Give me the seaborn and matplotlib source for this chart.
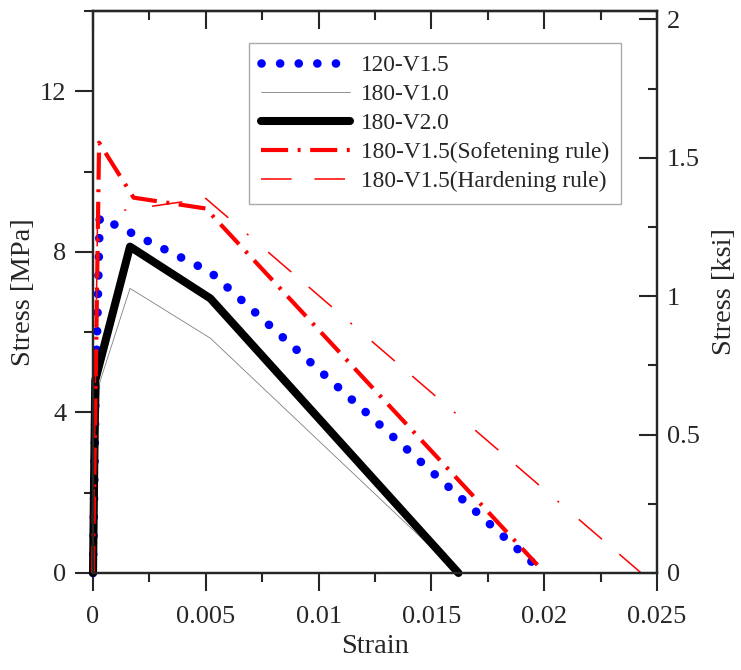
import numpy as np
import pandas as pd
import seaborn as sns
from matplotlib import pyplot as plt
from matplotlib.ticker import MultipleLocator, FormatStrFormatter

MPA_PER_KSI = 6.895

# curves (strain [-], stress [MPa])
strain_120_v15 = [0, 0.0001, 0.0003, 0.0052, 0.0195]
stress_120_v15 = [0, 4.0, 8.86, 7.5, 0.25]

strain_180_v10 = [0, 0.0003, 0.00164, 0.0052, 0.0162]
stress_180_v10 = [0, 4.75, 7.09, 5.85, 0.0]

strain_180_v20 = [0, 0.0001, 0.00164, 0.0052, 0.0162]
stress_180_v20 = [0, 4.8, 8.13, 6.84, 0.0]

strain_soft = [0, 0.00027, 0.0018, 0.0050, 0.0197]
stress_soft = [0, 10.72, 9.35, 9.08, 0.2]

strain_hard = [0, 0.0002, 0.0013, 0.0050, 0.0243]
stress_hard = [0, 8.8, 9.03, 9.33, 0.0]

labels = ['120-V1.5', '180-V1.0', '180-V2.0',
          '180-V1.5(Sofetening rule)', '180-V1.5(Hardening rule)']

sns.set_style("ticks")
plt.rcParams['font.family'] = ['Liberation Serif', 'DejaVu Serif']

fig = plt.figure(figsize=(7.41, 6.7), dpi=100)
ax = fig.add_axes([0.1255, 0.1448, 0.7611, 0.8388])

series = [
    (strain_120_v15, stress_120_v15, dict(color='blue', lw=6.2, linestyle=(0, (0.01, 2.15)),
                                           dash_capstyle='round')),
    (strain_180_v10, stress_180_v10, dict(color='#808080', lw=0.6)),
    (strain_180_v20, stress_180_v20, dict(color='black', lw=5.8, solid_capstyle='round')),
    (strain_soft, stress_soft, dict(color='red', lw=3, linestyle=(0, (6.5, 2.3, 0.7, 2.3)))),
    (strain_hard, stress_hard, dict(color='red', lw=1.1,
                                    linestyle=(0, (20, 15, 20, 16, 1.4, 17)))),
]

for (sx, sy, kw), lab in zip(series, labels):
    df = pd.DataFrame({'strain': sx, 'stress': sy})
    sns.lineplot(data=df, x='strain', y='stress', ax=ax, sort=False,
                 estimator=None, label=lab, clip_on=False, **kw)

ax.set_xlim(0, 0.025)
ax.set_ylim(0, 14)
ax.xaxis.set_major_locator(MultipleLocator(0.005))
ax.xaxis.set_minor_locator(MultipleLocator(0.0025))
ax.xaxis.set_major_formatter(FormatStrFormatter('%g'))
ax.yaxis.set_major_locator(MultipleLocator(4))
ax.yaxis.set_minor_locator(MultipleLocator(2))
ax.tick_params(which='major', direction='out', length=13, width=1.5, labelsize=19)
ax.tick_params(which='minor', direction='out', length=6.5, width=1.5)
ax.tick_params(axis='x', which='major', pad=11)
ax.tick_params(axis='y', which='major', pad=6)
ax.set_xlabel('Strain', fontsize=20.5, labelpad=4)
ax.set_ylabel('Stress [MPa]', fontsize=20.5, labelpad=3)

# top axis: inward ticks, no labels
top = ax.secondary_xaxis('top')
top.xaxis.set_major_locator(MultipleLocator(0.005))
top.xaxis.set_minor_locator(MultipleLocator(0.0025))
top.tick_params(which='major', direction='in', length=13, width=1.5, labeltop=False)
top.tick_params(which='minor', direction='in', length=6.5, width=1.5)

# right axis in ksi
ax2 = ax.twinx()
ax2.set_ylim(0, 14 / MPA_PER_KSI)
ax2.yaxis.set_major_locator(MultipleLocator(0.5))
ax2.yaxis.set_minor_locator(MultipleLocator(0.25))
ax2.yaxis.set_major_formatter(FormatStrFormatter('%g'))
ax2.tick_params(which='major', direction='in', length=13, width=1.5, labelsize=19, pad=7)
ax2.tick_params(which='minor', direction='in', length=6.5, width=1.5)
ax2.set_ylabel('Stress [ksi]', fontsize=20.5, labelpad=9)

for a in (ax, ax2, top):
    for s in a.spines.values():
        s.set_linewidth(1.6)

leg = ax.legend(loc='upper left', bbox_to_anchor=(0.2766, 0.943), borderaxespad=0,
                fontsize=16.8, handlelength=3.85, handletextpad=0.45, labelspacing=0.33,
                borderpad=0.5, fancybox=False, edgecolor='#aaaaaa', framealpha=1)
leg.get_frame().set_linewidth(1.0)

fig.savefig('out.png', dpi=100)
